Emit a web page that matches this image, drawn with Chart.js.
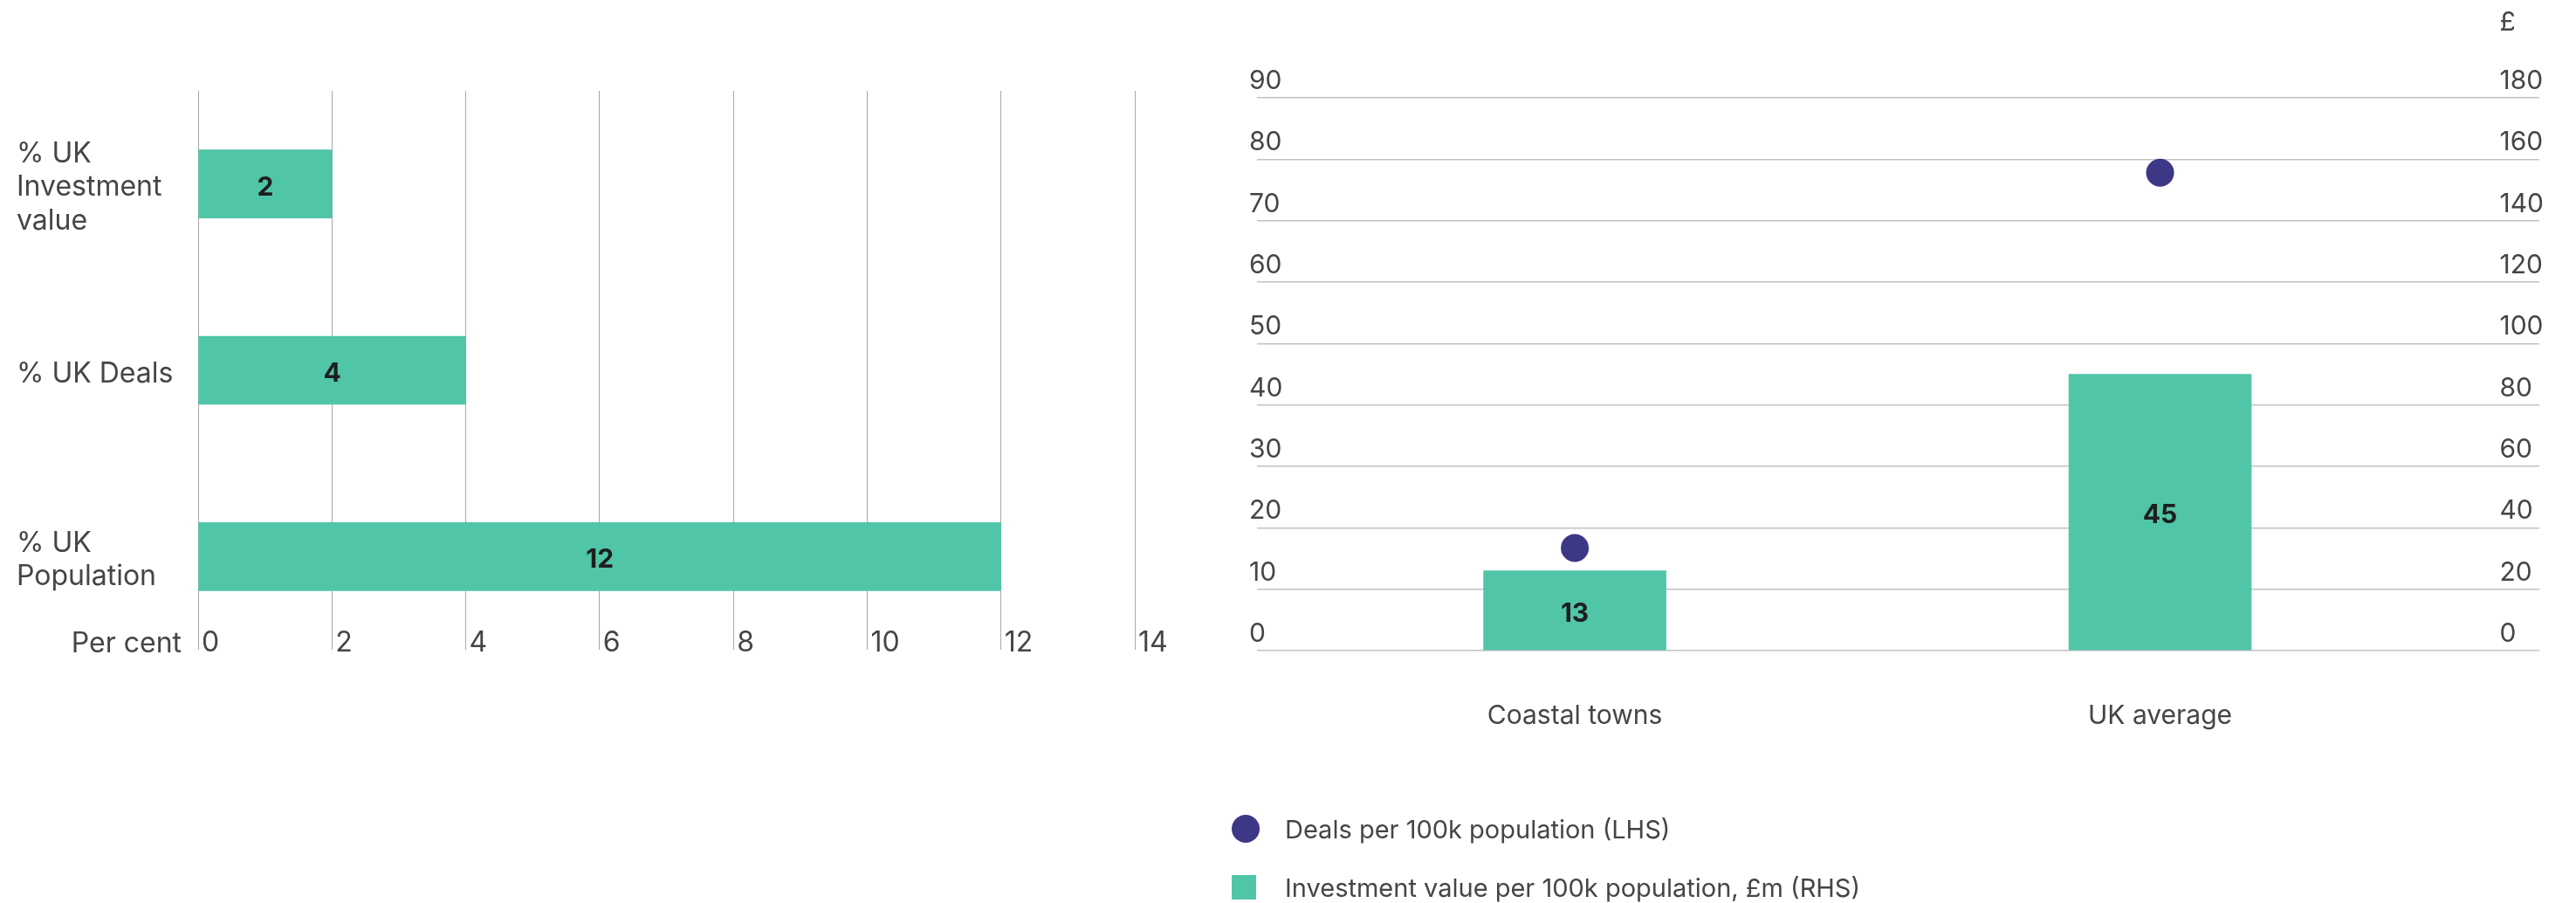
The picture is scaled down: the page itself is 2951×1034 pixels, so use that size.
<!DOCTYPE html>
<html>
<head>
<meta charset="utf-8">
<script src="https://cdn.jsdelivr.net/npm/chart.js@4.4.1/dist/chart.umd.min.js"></script>
<style>
  html, body { margin: 0; padding: 0; background: #fff; width: 2951px; height: 1034px; overflow: hidden; }
  #shareChart { position: absolute; left: 0; top: 0; }
  #perCapitaChart { position: absolute; left: 1360px; top: 0; }
  #legend { position: absolute; left: 1411px; top: 0; font-family: Inter, "Noto Sans", sans-serif; font-size: 29px; color: #454545; }
  #legend .item { position: absolute; left: 0; height: 40px; display: flex; align-items: center; white-space: nowrap; }
  #legend .slot { width: 61px; height: 40px; display: flex; align-items: center; }
</style>
</head>
<body>
<canvas id="shareChart" width="1360" height="1034"></canvas>
<canvas id="perCapitaChart" width="1591" height="1034"></canvas>
<div id="legend"></div>
<script>
// Coastal towns' share of the UK total
const shareLabels = [['% UK', 'Investment', 'value'], '% UK Deals', ['% UK', 'Population']];
const shareValues = [2, 4, 12];
const shareAxisMax = 14;
const shareAxisStep = 2;

// Deals and investment per 100k population
const areaNames = ['Coastal towns', 'UK average'];
const dealsPer100k = [16.7, 77.8];
const investmentPer100k = [13, 45];
const lhsMax = 90, lhsStep = 10;
const rhsMax = 180, rhsStep = 20;
const seriesNames = ['Deals per 100k population (LHS)', 'Investment value per 100k population, £m (RHS)'];

const TEAL = '#51c5a8';
const NAVY = '#3c3886';
const TEXT = '#454545';
const FONT = 'Inter, "Noto Sans", sans-serif';
const RHS_PAD = 11;

// Writes each bar's value in the middle of the bar
const barValueLabels = {
  id: 'barValueLabels',
  afterDatasetsDraw(chart) {
    const ctx = chart.ctx;
    chart.data.datasets.forEach((ds, i) => {
      const meta = chart.getDatasetMeta(i);
      if (meta.type !== 'bar') return;
      meta.data.forEach((el, j) => {
        const parsed = meta.controller.getParsed(j);
        const horizontal = el.horizontal;
        const v = horizontal ? parsed.x : parsed.y;
        const cx = horizontal ? (el.x + el.base) / 2 : el.x;
        const cy = horizontal ? el.y : (el.y + el.base) / 2;
        ctx.save();
        ctx.font = 'bold 30px ' + FONT;
        ctx.fillStyle = '#1e1e1e';
        ctx.textAlign = 'center';
        ctx.textBaseline = 'middle';
        ctx.fillText(String(v), cx, cy + 4);
        ctx.restore();
      });
    });
  }
};

// Axis unit caption to the left of the first tick label
const xUnitCaption = {
  id: 'xUnitCaption',
  afterDraw(chart, args, opts) {
    const ctx = chart.ctx;
    const xs = chart.scales.x;
    ctx.save();
    ctx.font = '32px ' + FONT;
    ctx.fillStyle = TEXT;
    ctx.textAlign = 'right';
    ctx.textBaseline = 'middle';
    ctx.fillText(opts.text, xs.left - 19, chart.chartArea.bottom - 7);
    ctx.restore();
  }
};

// Currency sign above the right-hand axis labels
const rhsCaption = {
  id: 'rhsCaption',
  afterDraw(chart, args, opts) {
    const ctx = chart.ctx;
    const s = chart.scales.y1;
    ctx.save();
    ctx.font = '30px ' + FONT;
    const widest = Math.max(...s.ticks.map(t => ctx.measureText(String(t.label)).width));
    ctx.fillStyle = TEXT;
    ctx.textAlign = 'left';
    ctx.textBaseline = 'middle';
    ctx.fillText(opts.text, s.left + RHS_PAD - widest, chart.chartArea.top - 86);
    ctx.restore();
  }
};

new Chart(document.getElementById('shareChart'), {
  type: 'bar',
  data: {
    labels: shareLabels,
    datasets: [{
      label: 'Share of UK total, %',
      data: shareValues,
      backgroundColor: TEAL,
      barThickness: 78
    }]
  },
  options: {
    indexAxis: 'y',
    responsive: false,
    animation: false,
    layout: { padding: { left: 19, right: 60, top: 104, bottom: 250 } },
    plugins: {
      legend: { display: false },
      tooltip: { enabled: false },
      xUnitCaption: { text: 'Per cent' }
    },
    scales: {
      x: {
        min: 0,
        max: shareAxisMax,
        grid: { color: '#a8a8a8', lineWidth: 1, drawTicks: false },
        border: { display: false },
        ticks: {
          stepSize: shareAxisStep,
          align: 'start',
          mirror: true,
          labelOffset: 4,
          padding: -12,
          maxRotation: 0,
          font: { family: FONT, size: 32 },
          color: TEXT
        },
        afterFit(s) { s.height = 40; }
      },
      y: {
        grid: { display: false },
        border: { display: false },
        ticks: {
          crossAlign: 'far',
          labelOffset: 4,
          font: { family: FONT, size: 32, lineHeight: 1.2 },
          color: TEXT
        },
        afterFit(s) { s.width = 208; }
      }
    }
  },
  plugins: [barValueLabels, xUnitCaption]
});

const perCapita = new Chart(document.getElementById('perCapitaChart'), {
  data: {
    datasets: [
      {
        type: 'line',
        label: seriesNames[0],
        data: areaNames.map((n, i) => ({ x: i, y: dealsPer100k[i] })),
        showLine: false,
        pointStyle: 'circle',
        pointRadius: 16,
        pointHoverRadius: 16,
        pointBorderWidth: 0,
        pointBackgroundColor: NAVY,
        backgroundColor: NAVY,
        borderColor: NAVY,
        yAxisID: 'y',
        order: 0
      },
      {
        type: 'bar',
        label: seriesNames[1],
        data: areaNames.map((n, i) => ({ x: i, y: investmentPer100k[i] })),
        pointStyle: 'rect',
        backgroundColor: TEAL,
        barThickness: 209,
        yAxisID: 'y',
        order: 1
      }
    ]
  },
  options: {
    responsive: false,
    animation: false,
    layout: { padding: { left: 80, right: 20, top: 112, bottom: 189 } },
    plugins: {
      legend: { display: false },
      tooltip: { enabled: false },
      rhsCaption: { text: '£' }
    },
    scales: {
      x: {
        type: 'linear',
        min: -0.543,
        max: 1.648,
        bounds: 'data',
        offset: false,
        grid: { display: false, offset: false, drawTicks: false },
        border: { display: false },
        // one tick per area, labelled with its name
        afterBuildTicks(s) { s.ticks = areaNames.map((n, i) => ({ value: i })); },
        ticks: {
          autoSkip: false,
          maxRotation: 0,
          padding: 57,
          font: { family: FONT, size: 30 },
          color: TEXT,
          callback: (v) => areaNames[Math.round(v)] ?? ''
        },
        afterFit(s) { s.height = 100; }
      },
      y: {
        position: 'left',
        min: 0,
        max: lhsMax,
        grid: { color: '#c2c2c2', lineWidth: 1.5, drawTicks: false },
        border: { display: false },
        ticks: {
          stepSize: lhsStep,
          mirror: true,
          padding: -3,
          labelOffset: -19,
          font: { family: FONT, size: 30 },
          color: TEXT
        }
      },
      y1: {
        position: 'right',
        min: 0,
        max: rhsMax,
        grid: { display: false, drawTicks: false },
        border: { display: false },
        ticks: {
          stepSize: rhsStep,
          mirror: true,
          crossAlign: 'far',
          padding: RHS_PAD,
          labelOffset: -19,
          font: { family: FONT, size: 30 },
          color: TEXT
        }
      }
    }
  },
  plugins: [barValueLabels, rhsCaption]
});

// Legend built from the chart's own datasets
const legendEl = document.getElementById('legend');
const rowCentres = [949, 1016];
perCapita.data.datasets.forEach((ds, i) => {
  const item = document.createElement('div');
  item.className = 'item';
  item.style.top = (rowCentres[i] - 20) + 'px';
  const slot = document.createElement('span');
  slot.className = 'slot';
  const sym = document.createElement('span');
  const round = ds.pointStyle === 'circle';
  const size = round ? 32 : 28;
  sym.style.cssText = `display:block;width:${size}px;height:${size}px;background:${ds.backgroundColor};border-radius:${round ? '50%' : '0'}`;
  slot.appendChild(sym);
  const txt = document.createElement('span');
  txt.textContent = ds.label;
  item.appendChild(slot);
  item.appendChild(txt);
  legendEl.appendChild(item);
});
</script>
</body>
</html>
